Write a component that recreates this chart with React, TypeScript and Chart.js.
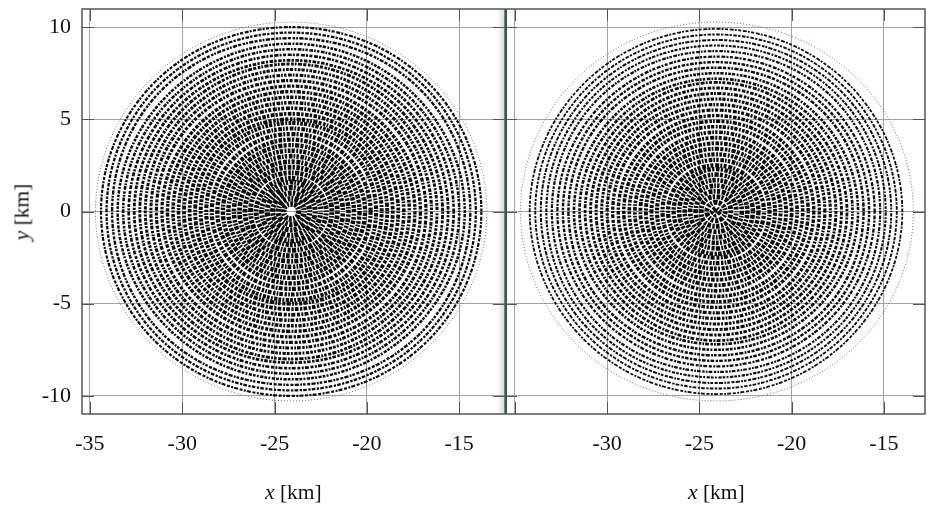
import React, { useEffect, useRef } from "react";
import { Chart, registerables } from "chart.js";

Chart.register(...registerables);

// NOTE: the reference holds tens of thousands of individual dots that cannot be read one by one.
// The cloud is therefore approximated by concentric rings of hand-estimated vertices, stroked
// with dashes. These rings stand in for the dots; they are not the original point data.

const xTicks = [-35, -30, -25, -20, -15];
const yTicks = [-10, -5, 0, 5, 10];

const leftBoundX = [-13.5, -16.6, -24.1, -31.6, -34.7, -31.6, -24.1, -16.6, -13.5];
const leftBoundY = [0, 7.26, 10.27, 7.26, 0, -7.26, -10.27, -7.26, 0];
const rightBoundX = [-13.4, -16.5, -24.1, -31.6, -34.7, -31.6, -24.1, -16.5, -13.4];
const rightBoundY = [0, 7.26, 10.27, 7.26, 0, -7.26, -10.27, -7.26, 0];

const leftRingX = [
  [-13.8,-16.8,-24.1,-31.4,-34.4,-31.4,-24.1,-16.8,-13.8],
  [-14.1,-17.0,-24.1,-31.2,-34.1,-31.2,-24.1,-17.0,-14.1],
  [-14.4,-17.2,-24.1,-31.0,-33.8,-31.0,-24.1,-17.2,-14.4],
  [-14.7,-17.5,-24.1,-30.7,-33.5,-30.7,-24.1,-17.5,-14.7],
  [-15.0,-17.7,-24.1,-30.5,-33.2,-30.5,-24.1,-17.7,-15.0],
  [-15.3,-17.9,-24.1,-30.3,-32.9,-30.3,-24.1,-17.9,-15.3],
  [-15.6,-18.1,-24.1,-30.1,-32.6,-30.1,-24.1,-18.1,-15.6],
  [-15.9,-18.3,-24.1,-29.9,-32.3,-29.9,-24.1,-18.3,-15.9],
  [-16.2,-18.5,-24.1,-29.7,-32.0,-29.7,-24.1,-18.5,-16.2],
  [-16.5,-18.7,-24.1,-29.5,-31.7,-29.5,-24.1,-18.7,-16.5],
  [-16.8,-18.9,-24.1,-29.3,-31.4,-29.3,-24.1,-18.9,-16.8],
  [-17.1,-19.2,-24.1,-29.0,-31.1,-29.0,-24.1,-19.2,-17.1],
  [-17.4,-19.4,-24.1,-28.8,-30.8,-28.8,-24.1,-19.4,-17.4],
  [-17.7,-19.6,-24.1,-28.6,-30.5,-28.6,-24.1,-19.6,-17.7],
  [-18.0,-19.8,-24.1,-28.4,-30.2,-28.4,-24.1,-19.8,-18.0],
  [-18.3,-20.0,-24.1,-28.2,-29.9,-28.2,-24.1,-20.0,-18.3],
  [-18.6,-20.2,-24.1,-28.0,-29.6,-28.0,-24.1,-20.2,-18.6],
  [-18.9,-20.4,-24.1,-27.8,-29.3,-27.8,-24.1,-20.4,-18.9],
  [-19.2,-20.6,-24.1,-27.6,-29.0,-27.6,-24.1,-20.6,-19.2],
  [-19.5,-20.8,-24.1,-27.4,-28.7,-27.4,-24.1,-20.8,-19.5],
  [-19.8,-21.1,-24.1,-27.1,-28.4,-27.1,-24.1,-21.1,-19.8],
  [-20.1,-21.3,-24.1,-26.9,-28.1,-26.9,-24.1,-21.3,-20.1],
  [-20.4,-21.5,-24.1,-26.7,-27.8,-26.7,-24.1,-21.5,-20.4],
  [-20.7,-21.7,-24.1,-26.5,-27.5,-26.5,-24.1,-21.7,-20.7],
  [-21.0,-21.9,-24.1,-26.3,-27.2,-26.3,-24.1,-21.9,-21.0],
  [-21.3,-22.1,-24.1,-26.1,-26.9,-26.1,-24.1,-22.1,-21.3],
  [-21.6,-22.3,-24.1,-25.9,-26.6,-25.9,-24.1,-22.3,-21.6],
  [-21.9,-22.5,-24.1,-25.7,-26.3,-25.7,-24.1,-22.5,-21.9],
  [-22.2,-22.8,-24.1,-25.4,-26.0,-25.4,-24.1,-22.8,-22.2],
  [-22.5,-23.0,-24.1,-25.2,-25.7,-25.2,-24.1,-23.0,-22.5],
  [-22.8,-23.2,-24.1,-25.0,-25.4,-25.0,-24.1,-23.2,-22.8],
  [-23.1,-23.4,-24.1,-24.8,-25.1,-24.8,-24.1,-23.4,-23.1],
  [-23.4,-23.6,-24.1,-24.6,-24.8,-24.6,-24.1,-23.6,-23.4],
  [-23.7,-23.8,-24.1,-24.4,-24.5,-24.4,-24.1,-23.8,-23.7],
];
const leftRingY = [
  [0,7.1,10.0,7.1,0,-7.1,-10.0,-7.1,0],
  [0,6.9,9.7,6.9,0,-6.9,-9.7,-6.9,0],
  [0,6.7,9.4,6.7,0,-6.7,-9.4,-6.7,0],
  [0,6.4,9.1,6.4,0,-6.4,-9.1,-6.4,0],
  [0,6.2,8.8,6.2,0,-6.2,-8.8,-6.2,0],
  [0,6.0,8.5,6.0,0,-6.0,-8.5,-6.0,0],
  [0,5.8,8.2,5.8,0,-5.8,-8.2,-5.8,0],
  [0,5.6,8.0,5.6,0,-5.6,-8.0,-5.6,0],
  [0,5.4,7.7,5.4,0,-5.4,-7.7,-5.4,0],
  [0,5.2,7.4,5.2,0,-5.2,-7.4,-5.2,0],
  [0,5.0,7.1,5.0,0,-5.0,-7.1,-5.0,0],
  [0,4.8,6.8,4.8,0,-4.8,-6.8,-4.8,0],
  [0,4.6,6.5,4.6,0,-4.6,-6.5,-4.6,0],
  [0,4.4,6.2,4.4,0,-4.4,-6.2,-4.4,0],
  [0,4.2,5.9,4.2,0,-4.2,-5.9,-4.2,0],
  [0,4.0,5.6,4.0,0,-4.0,-5.6,-4.0,0],
  [0,3.8,5.3,3.8,0,-3.8,-5.3,-3.8,0],
  [0,3.6,5.0,3.6,0,-3.6,-5.0,-3.6,0],
  [0,3.4,4.8,3.4,0,-3.4,-4.8,-3.4,0],
  [0,3.2,4.5,3.2,0,-3.2,-4.5,-3.2,0],
  [0,3.0,4.2,3.0,0,-3.0,-4.2,-3.0,0],
  [0,2.7,3.9,2.7,0,-2.7,-3.9,-2.7,0],
  [0,2.5,3.6,2.5,0,-2.5,-3.6,-2.5,0],
  [0,2.3,3.3,2.3,0,-2.3,-3.3,-2.3,0],
  [0,2.1,3.0,2.1,0,-2.1,-3.0,-2.1,0],
  [0,1.9,2.7,1.9,0,-1.9,-2.7,-1.9,0],
  [0,1.7,2.4,1.7,0,-1.7,-2.4,-1.7,0],
  [0,1.5,2.1,1.5,0,-1.5,-2.1,-1.5,0],
  [0,1.3,1.8,1.3,0,-1.3,-1.8,-1.3,0],
  [0,1.1,1.6,1.1,0,-1.1,-1.6,-1.1,0],
  [0,0.9,1.3,0.9,0,-0.9,-1.3,-0.9,0],
  [0,0.7,1.0,0.7,0,-0.7,-1.0,-0.7,0],
  [0,0.5,0.7,0.5,0,-0.5,-0.7,-0.5,0],
  [0,0.3,0.4,0.3,0,-0.3,-0.4,-0.3,0],
];
const rightRingX = [
  [-14.0,-17.0,-24.1,-31.2,-34.2,-31.2,-24.1,-17.0,-14.0],
  [-14.3,-17.2,-24.1,-31.0,-33.9,-31.0,-24.1,-17.2,-14.3],
  [-14.6,-17.4,-24.1,-30.8,-33.6,-30.8,-24.1,-17.4,-14.6],
  [-14.9,-17.6,-24.1,-30.6,-33.3,-30.6,-24.1,-17.6,-14.9],
  [-15.2,-17.8,-24.1,-30.4,-33.0,-30.4,-24.1,-17.8,-15.2],
  [-15.5,-18.0,-24.1,-30.2,-32.7,-30.2,-24.1,-18.0,-15.5],
  [-15.8,-18.2,-24.1,-30.0,-32.4,-30.0,-24.1,-18.2,-15.8],
  [-16.1,-18.4,-24.1,-29.8,-32.1,-29.8,-24.1,-18.4,-16.1],
  [-16.4,-18.7,-24.1,-29.5,-31.8,-29.5,-24.1,-18.7,-16.4],
  [-16.7,-18.9,-24.1,-29.3,-31.5,-29.3,-24.1,-18.9,-16.7],
  [-17.0,-19.1,-24.1,-29.1,-31.2,-29.1,-24.1,-19.1,-17.0],
  [-17.3,-19.3,-24.1,-28.9,-30.9,-28.9,-24.1,-19.3,-17.3],
  [-17.6,-19.5,-24.1,-28.7,-30.6,-28.7,-24.1,-19.5,-17.6],
  [-17.9,-19.7,-24.1,-28.5,-30.3,-28.5,-24.1,-19.7,-17.9],
  [-18.2,-19.9,-24.1,-28.3,-30.0,-28.3,-24.1,-19.9,-18.2],
  [-18.5,-20.1,-24.1,-28.1,-29.7,-28.1,-24.1,-20.1,-18.5],
  [-18.8,-20.4,-24.1,-27.8,-29.4,-27.8,-24.1,-20.4,-18.8],
  [-19.1,-20.6,-24.1,-27.6,-29.1,-27.6,-24.1,-20.6,-19.1],
  [-19.4,-20.8,-24.1,-27.4,-28.8,-27.4,-24.1,-20.8,-19.4],
  [-19.7,-21.0,-24.1,-27.2,-28.5,-27.2,-24.1,-21.0,-19.7],
  [-20.0,-21.2,-24.1,-27.0,-28.2,-27.0,-24.1,-21.2,-20.0],
  [-20.3,-21.4,-24.1,-26.8,-27.9,-26.8,-24.1,-21.4,-20.3],
  [-20.6,-21.6,-24.1,-26.6,-27.6,-26.6,-24.1,-21.6,-20.6],
  [-20.9,-21.8,-24.1,-26.4,-27.3,-26.4,-24.1,-21.8,-20.9],
  [-21.2,-22.0,-24.1,-26.2,-27.0,-26.2,-24.1,-22.0,-21.2],
  [-21.5,-22.3,-24.1,-25.9,-26.7,-25.9,-24.1,-22.3,-21.5],
  [-21.8,-22.5,-24.1,-25.7,-26.4,-25.7,-24.1,-22.5,-21.8],
  [-22.1,-22.7,-24.1,-25.5,-26.1,-25.5,-24.1,-22.7,-22.1],
  [-22.4,-22.9,-24.1,-25.3,-25.8,-25.3,-24.1,-22.9,-22.4],
  [-22.7,-23.1,-24.1,-25.1,-25.5,-25.1,-24.1,-23.1,-22.7],
  [-23.0,-23.3,-24.1,-24.9,-25.2,-24.9,-24.1,-23.3,-23.0],
  [-23.3,-23.5,-24.1,-24.7,-24.9,-24.7,-24.1,-23.5,-23.3],
  [-23.6,-23.75,-24.1,-24.45,-24.6,-24.45,-24.1,-23.75,-23.6],
  [-23.9,-24.0,-24.1,-24.2,-24.3,-24.2,-24.1,-24.0,-23.9],
];
const rightRingY = [
  [0,7.0,9.9,7.0,0,-7.0,-9.9,-7.0,0],
  [0,6.8,9.6,6.8,0,-6.8,-9.6,-6.8,0],
  [0,6.6,9.3,6.6,0,-6.6,-9.3,-6.6,0],
  [0,6.4,9.0,6.4,0,-6.4,-9.0,-6.4,0],
  [0,6.2,8.7,6.2,0,-6.2,-8.7,-6.2,0],
  [0,5.9,8.4,5.9,0,-5.9,-8.4,-5.9,0],
  [0,5.7,8.1,5.7,0,-5.7,-8.1,-5.7,0],
  [0,5.5,7.8,5.5,0,-5.5,-7.8,-5.5,0],
  [0,5.3,7.5,5.3,0,-5.3,-7.5,-5.3,0],
  [0,5.1,7.2,5.1,0,-5.1,-7.2,-5.1,0],
  [0,4.9,7.0,4.9,0,-4.9,-7.0,-4.9,0],
  [0,4.7,6.7,4.7,0,-4.7,-6.7,-4.7,0],
  [0,4.5,6.4,4.5,0,-4.5,-6.4,-4.5,0],
  [0,4.3,6.1,4.3,0,-4.3,-6.1,-4.3,0],
  [0,4.1,5.8,4.1,0,-4.1,-5.8,-4.1,0],
  [0,3.9,5.5,3.9,0,-3.9,-5.5,-3.9,0],
  [0,3.7,5.2,3.7,0,-3.7,-5.2,-3.7,0],
  [0,3.5,4.9,3.5,0,-3.5,-4.9,-3.5,0],
  [0,3.3,4.6,3.3,0,-3.3,-4.6,-3.3,0],
  [0,3.0,4.3,3.0,0,-3.0,-4.3,-3.0,0],
  [0,2.8,4.0,2.8,0,-2.8,-4.0,-2.8,0],
  [0,2.6,3.7,2.6,0,-2.6,-3.7,-2.6,0],
  [0,2.4,3.4,2.4,0,-2.4,-3.4,-2.4,0],
  [0,2.2,3.1,2.2,0,-2.2,-3.1,-2.2,0],
  [0,2.0,2.8,2.0,0,-2.0,-2.8,-2.0,0],
  [0,1.8,2.5,1.8,0,-1.8,-2.5,-1.8,0],
  [0,1.6,2.3,1.6,0,-1.6,-2.3,-1.6,0],
  [0,1.4,2.0,1.4,0,-1.4,-2.0,-1.4,0],
  [0,1.2,1.7,1.2,0,-1.2,-1.7,-1.2,0],
  [0,1.0,1.4,1.0,0,-1.0,-1.4,-1.0,0],
  [0,0.8,1.1,0.8,0,-0.8,-1.1,-0.8,0],
  [0,0.6,0.8,0.6,0,-0.6,-0.8,-0.6,0],
  [0,0.35,0.5,0.35,0,-0.35,-0.5,-0.35,0],
  [0,0.1,0.2,0.1,0,-0.1,-0.2,-0.1,0],
];

const SERIF = "'Liberation Serif', serif";
// Repeats the neighbouring vertices at both ends, so the closing vertex gets a smooth tangent.
const closed = (xs: number[], ys: number[]) =>
  [7, 0, 1, 2, 3, 4, 5, 6, 7, 8, 1].map((k) => ({ x: xs[k], y: ys[k] }));

const dashPatterns = [
  [3, 1.4, 2, 1.1, 4, 1.7],
  [2.3, 1.2, 3.6, 1.5],
  [4.2, 1.3, 1.8, 1, 2.6, 1.6, 3.1, 1.2],
  [1.9, 1.5, 3.3, 1, 2.7, 1.3],
  [3.7, 1.6, 2.4, 1.2, 1.7, 1],
];

const hideEnds = (last: number) => ({
  borderColor: (c: any) => (c.p0DataIndex === 0 || c.p1DataIndex === last ? "rgba(0,0,0,0)" : undefined),
});

const innerTicks = {
  id: "innerTicks",
  afterDraw(chart: any) {
    const { ctx, chartArea: a, scales } = chart;
    ctx.save();
    ctx.strokeStyle = "#555";
    ctx.lineWidth = 1;
    ctx.beginPath();
    for (const v of xTicks) {
      const p = Math.round(scales.x.getPixelForValue(v)) + 0.5;
      ctx.moveTo(p, a.bottom); ctx.lineTo(p, a.bottom - 12);
      ctx.moveTo(p, a.top); ctx.lineTo(p, a.top + 12);
    }
    for (const v of yTicks) {
      const p = Math.round(scales.y.getPixelForValue(v)) + 0.5;
      ctx.moveTo(a.left, p); ctx.lineTo(a.left + 12, p);
      ctx.moveTo(a.right, p); ctx.lineTo(a.right - 12, p);
    }
    ctx.stroke();
    ctx.strokeStyle = "#555";
    ctx.lineWidth = 1.5;
    ctx.strokeRect(a.left, a.top, a.right - a.left, a.bottom - a.top);
    ctx.restore();
  },
};

const noPadding = (s: any) => { s.paddingTop = 0; s.paddingBottom = 0; s.paddingLeft = 0; s.paddingRight = 0; };

function makeChart(
  canvas: HTMLCanvasElement, ringX: number[][], ringY: number[][], boundX: number[], boundY: number[],
  xMin: number, xMax: number, showY: boolean, hideFirst: boolean, right: number, baseWidth: number,
) {
  const n = ringX.length;
  const datasets: any[] = ringX.map((xs, i) => ({
    data: closed(xs, ringY[i]), showLine: true, pointRadius: 0, tension: 0.375,
    borderColor: "#0c0c0c", borderWidth: baseWidth + (3.4 * i) / n,
    borderDash: dashPatterns[i % dashPatterns.length],
    borderDashOffset: i * 1.7,
    segment: hideEnds(10),
  }));
  datasets.push({
    data: closed(boundX, boundY), showLine: true, pointRadius: 0, tension: 0.375,
    borderColor: "#6c6ca4", borderWidth: 1, borderDash: [1, 2], segment: hideEnds(10),
  });
  return new Chart(canvas, {
    type: "scatter",
    data: { datasets },
    plugins: [innerTicks],
    options: {
      animation: false, responsive: false,
      layout: { padding: { top: 9, right, left: 0, bottom: 0 } },
      plugins: { legend: { display: false }, tooltip: { enabled: false } },
      scales: {
        x: {
          type: "linear", min: xMin, max: xMax,
          afterBuildTicks: (s: any) => { s.ticks = xTicks.map((value) => ({ value })); },
          afterFit: (s: any) => { s.height = 509 - 414; noPadding(s); },
          grid: { color: "#a2a2a2", lineWidth: 1, drawTicks: false },
          border: { display: false },
          ticks: {
            padding: 17, maxRotation: 0, autoSkip: false, color: "#111",
            font: { family: SERIF, size: 22 },
            callback: (v: any) => (hideFirst && v === -35 ? "" : String(v)),
          },
        },
        y: {
          type: "linear", min: -10.98, max: 10.98, display: true,
          afterBuildTicks: (s: any) => { s.ticks = yTicks.map((value) => ({ value })); },
          afterFit: (s: any) => { s.width = showY ? 82 : 0; noPadding(s); },
          grid: { color: "#a2a2a2", lineWidth: 1, drawTicks: false },
          border: { display: false },
          ticks: {
            display: showY, padding: 11, color: "#111",
            font: { family: SERIF, size: 22 },
            callback: (v: any) => String(v),
          },
        },
      },
    } as any,
  });
}

const titleStyle: React.CSSProperties = {
  position: "absolute", fontFamily: SERIF, fontSize: 21.5, color: "#111", whiteSpace: "nowrap",
};

export default function App() {
  const leftRef = useRef<HTMLCanvasElement>(null);
  const rightRef = useRef<HTMLCanvasElement>(null);
  useEffect(() => {
    const l = makeChart(leftRef.current!, leftRingX, leftRingY, leftBoundX, leftBoundY, -35.43, -12.52, true, false, 0, 2.2);
    const r = makeChart(rightRef.current!, rightRingX, rightRingY, rightBoundX, rightBoundY, -35.54, -12.77, false, true, 10, 1.8);
    return () => { l.destroy(); r.destroy(); };
  }, []);
  const soft = "blur(0.4px)";
  return (
    <div style={{ position: "fixed", left: 0, top: 0, width: 935, height: 509, background: "#fff", overflow: "hidden" }}>
      <canvas ref={leftRef} width={505} height={509} style={{ position: "absolute", left: 0, top: 0, width: 505, height: 509, filter: soft }} />
      <canvas ref={rightRef} width={430} height={509} style={{ position: "absolute", left: 505, top: 0, width: 430, height: 509, filter: soft }} />
      <div style={{ position: "absolute", left: 497, top: 9, width: 8, height: 405, background: "linear-gradient(to right, rgba(120,120,120,0), rgba(120,120,120,0.28))" }} />
      <div style={{ position: "absolute", left: 505, top: 9, width: 2, height: 405, background: "#2f5f50" }} />
      <div style={{ ...titleStyle, left: 265, top: 480 }}><i>x</i> [km]</div>
      <div style={{ ...titleStyle, left: 688, top: 480 }}><i>x</i> [km]</div>
      <div style={{ ...titleStyle, left: 22, top: 212, transform: "translate(-50%,-50%) rotate(-90deg)" }}><i>y</i> [km]</div>
    </div>
  );
}
